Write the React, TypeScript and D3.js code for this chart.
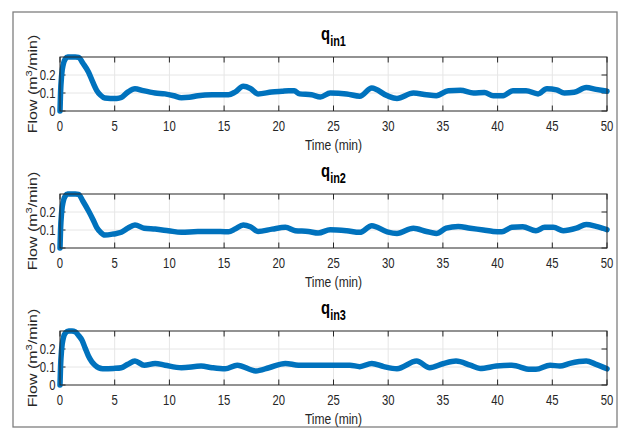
import React from "react";
import * as d3 from "d3";

// ---- data ----
const xTicks = [0, 5, 10, 15, 20, 25, 30, 35, 40, 45, 50];
const yTicks = [0, 0.1, 0.2];
const yTickLabels = ["0", "0.1", "0.2"];
const seriesNames = ["in1", "in2", "in3"];

const t1 = [0, 0.05, 0.15, 0.3, 0.5, 0.7, 1.0, 1.4, 1.7, 2.1, 2.6, 3.0, 3.35, 3.7, 4.1, 4.6, 5.2, 5.6, 6.2, 6.85, 7.6, 8.7, 9.6, 10.4, 11.1, 11.8, 12.6, 13.9, 15.4, 16.0, 16.75, 17.4, 18.1, 19.35, 20.3, 20.9, 21.4, 21.9, 23.0, 23.8, 24.7, 26.2, 27.4, 28.5, 29.9, 30.8, 32.3, 33.5, 34.4, 35.5, 36.6, 37.8, 38.8, 39.6, 40.5, 41.4, 42.6, 43.7, 44.5, 45.4, 46.1, 47.0, 48.1, 49.0, 50.0];
const q1 = [0, 0.1, 0.2, 0.26, 0.29, 0.3, 0.3, 0.3, 0.298, 0.265, 0.217, 0.16, 0.115, 0.088, 0.072, 0.07, 0.07, 0.075, 0.105, 0.124, 0.113, 0.1, 0.095, 0.085, 0.074, 0.076, 0.085, 0.09, 0.09, 0.105, 0.137, 0.125, 0.095, 0.105, 0.11, 0.113, 0.112, 0.095, 0.09, 0.078, 0.1, 0.095, 0.082, 0.128, 0.085, 0.07, 0.1, 0.09, 0.085, 0.113, 0.115, 0.1, 0.103, 0.085, 0.085, 0.113, 0.113, 0.095, 0.124, 0.117, 0.1, 0.104, 0.13, 0.12, 0.11];

const t2 = [0, 0.05, 0.15, 0.3, 0.5, 0.7, 1.0, 1.4, 1.7, 2.1, 2.6, 3.0, 3.35, 3.7, 4.1, 4.9, 5.6, 6.2, 6.85, 7.7, 8.7, 9.9, 11.1, 12.6, 13.9, 15.4, 16.0, 16.75, 17.4, 18.1, 19.4, 20.6, 21.5, 22.7, 23.6, 24.7, 26.2, 27.4, 28.5, 29.9, 30.8, 32.3, 33.5, 34.4, 35.3, 36.4, 37.5, 38.7, 39.6, 40.4, 41.3, 42.3, 43.5, 44.3, 45.1, 46.0, 47.2, 48.1, 49.0, 50.0];
const q2 = [0, 0.1, 0.2, 0.26, 0.29, 0.3, 0.3, 0.3, 0.298, 0.26, 0.207, 0.16, 0.115, 0.088, 0.072, 0.078, 0.087, 0.11, 0.128, 0.11, 0.105, 0.096, 0.087, 0.092, 0.092, 0.09, 0.105, 0.128, 0.118, 0.092, 0.105, 0.115, 0.096, 0.092, 0.083, 0.102, 0.096, 0.087, 0.124, 0.09, 0.081, 0.11, 0.092, 0.081, 0.11, 0.12, 0.11, 0.1, 0.092, 0.09, 0.115, 0.118, 0.096, 0.115, 0.115, 0.096, 0.11, 0.13, 0.12, 0.102];

const t3 = [0, 0.05, 0.15, 0.3, 0.5, 0.8, 1.1, 1.4, 1.7, 2.0, 2.3, 2.6, 2.9, 3.2, 3.9, 4.9, 5.6, 6.2, 6.85, 7.7, 8.7, 9.6, 11.1, 12.9, 13.9, 15.1, 16.2, 17.9, 19.1, 20.6, 21.8, 23.3, 24.7, 26.5, 27.4, 28.5, 29.6, 30.8, 32.6, 33.8, 35.0, 36.2, 37.5, 38.4, 39.9, 41.3, 43.0, 43.5, 44.8, 45.7, 46.6, 48.1, 49.0, 50.0];
const q3 = [0, 0.1, 0.2, 0.26, 0.29, 0.3, 0.3, 0.295, 0.275, 0.25, 0.205, 0.161, 0.13, 0.11, 0.09, 0.092, 0.096, 0.115, 0.133, 0.11, 0.12, 0.11, 0.096, 0.105, 0.096, 0.09, 0.11, 0.078, 0.096, 0.12, 0.11, 0.11, 0.11, 0.11, 0.102, 0.12, 0.102, 0.09, 0.133, 0.096, 0.118, 0.133, 0.11, 0.092, 0.105, 0.11, 0.087, 0.087, 0.11, 0.105, 0.12, 0.133, 0.115, 0.09];

const times = [t1, t2, t3];
const flows = [q1, q2, q3];

// ---- layout ----
const W = 622;
const H = 434;
const left = 60;
const right = 607;
const tops = [57, 194, 331];
const ph = 54;
const SX = 0.78;
const FONT = "'Liberation Sans', Arial, Helvetica, sans-serif";
const TXT = "#262626";

const x = d3.scaleLinear().domain([0, 50]).range([left, right]);

function HText(props: any) {
  const { x, y, anchor, size, weight, children } = props;
  return (
    <text
      transform={`translate(${x},${y}) scale(${SX},1)`}
      textAnchor={anchor || "middle"}
      fontSize={size}
      fontWeight={weight || "normal"}
      fill={TXT}
      fontFamily={FONT}
    >
      {children}
    </text>
  );
}

function Panel({ idx }: { idx: number }) {
  const top = tops[idx];
  const bottom = top + ph;
  const y = d3.scaleLinear().domain([0, 0.3]).range([bottom, top]);
  const line = d3
    .line<number>()
    .x((_, i) => x(times[idx][i]))
    .y((d) => y(d))
    .curve(d3.curveMonotoneX);
  const tl = 5.5;
  const cx = (left + right) / 2;
  const cy = (top + bottom) / 2;
  return (
    <g>
      {xTicks.slice(1, -1).map((t) => (
        <line key={"gx" + t} x1={x(t)} x2={x(t)} y1={top} y2={bottom} stroke="#e6e6e6" strokeWidth={1} />
      ))}
      {yTicks.slice(1).map((t) => (
        <line key={"gy" + t} x1={left} x2={right} y1={y(t)} y2={y(t)} stroke="#e6e6e6" strokeWidth={1} />
      ))}
      {xTicks.map((t) => (
        <g key={"tx" + t}>
          <line x1={x(t)} x2={x(t)} y1={bottom} y2={bottom - tl} stroke={TXT} strokeWidth={1} />
          <line x1={x(t)} x2={x(t)} y1={top} y2={top + tl} stroke={TXT} strokeWidth={1} />
          <HText x={x(t)} y={bottom + 20} size={14.5}>{String(t)}</HText>
        </g>
      ))}
      {yTicks.map((t, i) => (
        <g key={"ty" + t}>
          <line x1={left} x2={left + tl} y1={y(t)} y2={y(t)} stroke={TXT} strokeWidth={1} />
          <line x1={right} x2={right - tl} y1={y(t)} y2={y(t)} stroke={TXT} strokeWidth={1} />
          <HText x={left - 4.5} y={y(t) + 5} size={14.5} anchor="end">{yTickLabels[i]}</HText>
        </g>
      ))}
      <path d={line(flows[idx]) || ""} fill="none" stroke="#0072BD" strokeWidth={5.5} strokeLinejoin="round" strokeLinecap="round" />
      <rect x={left} y={top} width={right - left} height={ph} fill="none" stroke={TXT} strokeWidth={1} />
      <HText x={cx} y={bottom + 39} size={15.5}>Time (min)</HText>
      <text
        transform={`translate(${37},${cy}) scale(${SX},1) rotate(-90)`}
        textAnchor="middle"
        fontSize={16}
        fill={TXT}
        fontFamily={FONT}
      >
        Flow (m<tspan dy={-6} fontSize={11}>3</tspan><tspan dy={6}>/min)</tspan>
      </text>
      <text
        transform={`translate(${cx},${top - 17}) scale(${SX},1)`}
        textAnchor="middle"
        fontSize={19}
        fontWeight="bold"
        fill="#000"
        fontFamily={FONT}
      >
        q<tspan dy={6} fontSize={14}>{seriesNames[idx]}</tspan>
      </text>
    </g>
  );
}

export default function App() {
  return (
    <div style={{ position: "absolute", left: 0, top: 0 }}>
      <svg width={W} height={H} style={{ display: "block", background: "#fff" }}>
        <rect x={13} y={12} width={604} height={415} fill="#fff" stroke="#7f7f7f" strokeWidth={1.3} />
        {[0, 1, 2].map((i) => (
          <Panel key={i} idx={i} />
        ))}
      </svg>
    </div>
  );
}
